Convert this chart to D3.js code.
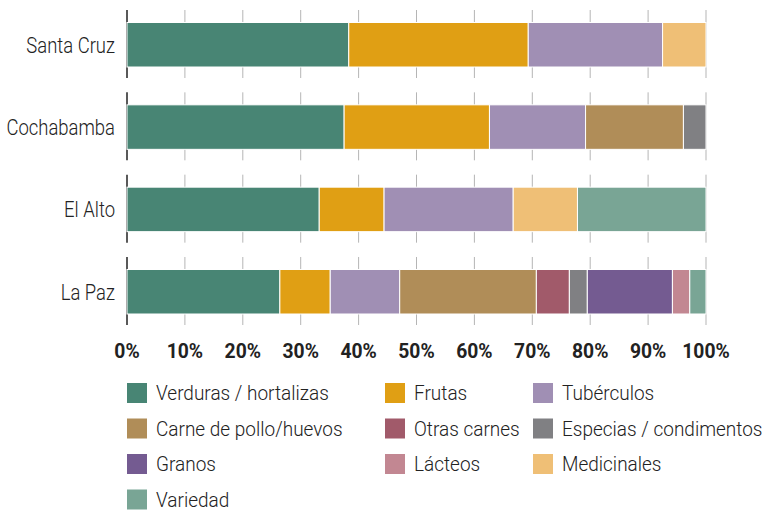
<!DOCTYPE html>
<html>
<head>
<meta charset="utf-8">
<script src="https://cdn.jsdelivr.net/npm/d3@7"></script>
<style>
  body { margin: 0; background: #fff; }
  text { font-family: Roboto, "DejaVu Sans", sans-serif; fill: #222; }
</style>
</head>
<body>
<svg id="chart" width="762" height="510"></svg>
<script>
const cities = ['Santa Cruz', 'Cochabamba', 'El Alto', 'La Paz']
const categories = ['Verduras / hortalizas', 'Frutas', 'Tubérculos',
    'Carne de pollo/huevos', 'Otras carnes', 'Especias / condimentos',
    'Granos', 'Lácteos', 'Medicinales', 'Variedad']
const colors = ['#488574', '#e09f14', '#a08fb4', '#b08d58', '#a15a6a',
    '#808083', '#745b91', '#c28792', '#efbf76', '#79a595']

// percent per category, same order as categories
const santaCruz  = [38.3, 31.0, 23.2, 0, 0, 0, 0, 0, 7.5, 0]
const cochabamba = [37.5, 25.1, 16.6, 16.9, 0, 3.9, 0, 0, 0, 0]
const elAlto     = [33.2, 11.2, 22.3, 0, 0, 0, 0, 0, 11.1, 22.2]
const laPaz      = [26.4, 8.7, 12.0, 23.6, 5.7, 3.1, 14.7, 3.0, 0, 2.8]
const ticks = [0, 10, 20, 30, 40, 50, 60, 70, 80, 90, 100]

const table = cities.map((c, i) => {
    const vals = [santaCruz, cochabamba, elAlto, laPaz][i]
    const row = { city: c }
    categories.forEach((k, j) => row[k] = vals[j])
    return row
})

const svg = d3.select('#chart')

const x = d3.scaleLinear().domain([0, 100]).range([127, 706])
const band = d3.scaleBand().domain(cities).range([10, 325]).paddingInner(0.174)
const barPad = 12.5, barH = 44.5

const stack = d3.stack().keys(categories)(table)

// grid per band
const grid = svg.append('g')
cities.forEach(c => {
    const y0 = band(c), y1 = y0 + band.bandwidth()
    grid.selectAll(null)
        .data(ticks.slice(1))
        .join('line')
        .attr('x1', d => x(d)).attr('x2', d => x(d))
        .attr('y1', y0).attr('y2', y1)
        .attr('stroke', '#b5b5b5')
        .attr('stroke-width', 1)
    grid.append('line')
        .attr('x1', x(0)).attr('x2', x(0))
        .attr('y1', y0).attr('y2', y1)
        .attr('stroke', '#222')
        .attr('stroke-width', 1.5)
})

svg.append('g')
    .selectAll('g')
    .data(stack)
    .join('g')
    .attr('fill', (d, i) => colors[i])
    .selectAll('rect')
    .data(d => d.filter(s => s[1] - s[0] > 0))
    .join('rect')
    .attr('x', d => x(d[0]))
    .attr('width', d => x(d[1]) - x(d[0]))
    .attr('y', d => band(d.data.city) + barPad)
    .attr('height', barH)
    .attr('stroke', '#fff')
    .attr('stroke-width', 1)

// city labels
svg.append('g')
    .selectAll('text')
    .data(cities)
    .join('text')
    .attr('transform', d => `translate(115,${band(d) + barPad + barH / 2}) scale(0.84,1)`)
    .attr('dy', '0.36em')
    .attr('text-anchor', 'end')
    .style('font-size', '22px')
    .style('font-weight', 300)
    .text(d => d)

// x tick labels
svg.append('g')
    .selectAll('text')
    .data(ticks)
    .join('text')
    .attr('transform', d => `translate(${x(d)},350) scale(0.92,1)`)
    .attr('dy', '0.36em')
    .attr('text-anchor', 'middle')
    .style('font-size', '21px')
    .style('font-weight', 700)
    .text(d => d + '%')

// legend
const legCols = [127, 385, 533]
const legRow0 = 393, legStep = 35.5
const legend = svg.append('g')
    .selectAll('g')
    .data(categories)
    .join('g')
    .attr('transform', (d, i) => `translate(${legCols[i % 3]},${legRow0 + Math.floor(i / 3) * legStep})`)
legend.append('rect')
    .attr('x', 0).attr('y', -10)
    .attr('width', 20).attr('height', 20)
    .attr('fill', (d, i) => colors[i])
legend.append('text')
    .attr('transform', 'translate(29,0) scale(0.95,1)')
    .attr('dy', '0.36em')
    .style('font-size', '20px')
    .style('font-weight', 300)
    .text(d => d)
</script>
</body>
</html>
